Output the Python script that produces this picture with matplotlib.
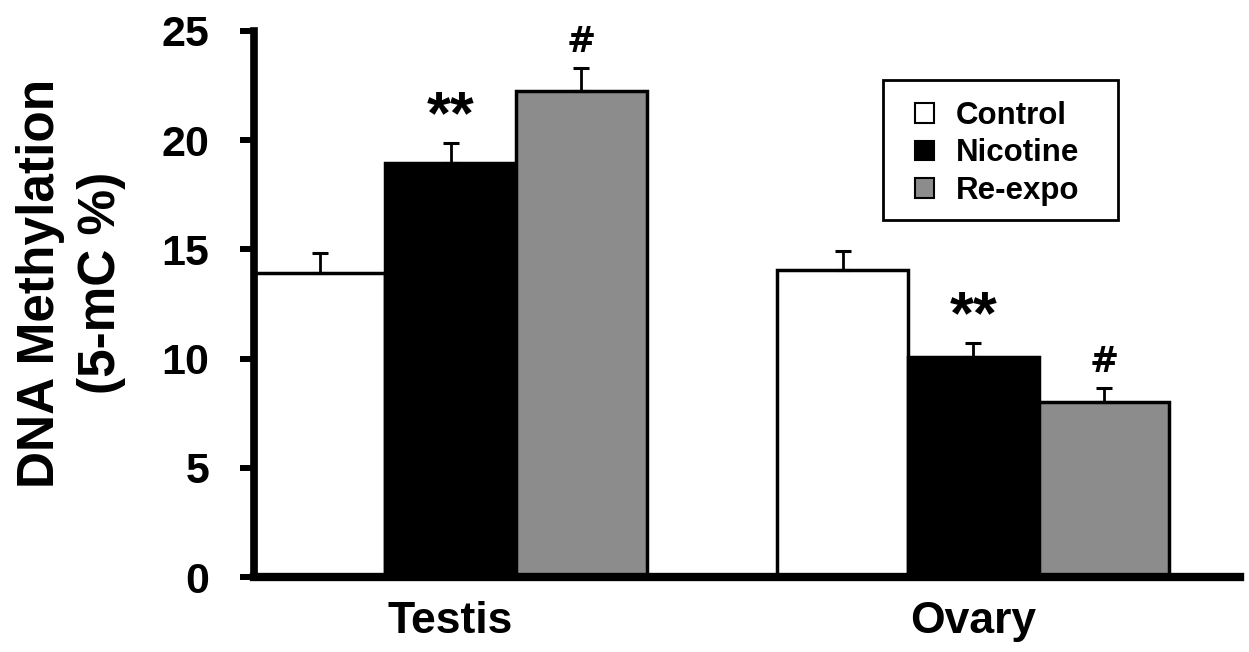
import numpy as np
import matplotlib
matplotlib.use("Agg")
import matplotlib.pyplot as plt
from matplotlib.patches import Rectangle

plt.rcParams['font.family'] = ['Liberation Sans', 'DejaVu Sans']
plt.rcParams['font.weight'] = 'bold'

# data
organs = ["Testis", "Ovary"]
groups = ["Control", "Nicotine", "Re-expo"]
control = [13.92, 14.06]
nicotine = [18.95, 10.07]
reexpo = [22.25, 8.01]
control_err = [0.92, 0.87]
nicotine_err = [0.92, 0.64]
reexpo_err = [1.06, 0.64]
marks = {"Control": ["", ""], "Nicotine": ["**", "**"], "Re-expo": ["#", "#"]}

colors = {"Control": "white", "Nicotine": "black", "Re-expo": "#8c8c8c"}
# fontsize, offset above cap, family
mark_style = {"**": (44, 0.45, "Liberation Sans"), "#": (25, 0.73, "DejaVu Sans")}

fig = plt.figure(figsize=(12.49, 6.52), dpi=100)
ax = fig.add_axes([0.2034, 0.115, 0.7894, 0.8375])

x = np.arange(len(organs))
w = 0.25
series = [(groups[0], control, control_err),
          (groups[1], nicotine, nicotine_err),
          (groups[2], reexpo, reexpo_err)]

for i, (name, vals, errs) in enumerate(series):
    pos = x + (i - 1) * w
    ax.bar(pos, vals, width=w, color=colors[name], edgecolor="black",
           linewidth=2.5, label=name, zorder=2)
    ax.errorbar(pos, vals, yerr=[np.zeros(len(errs)), errs], fmt="none",
                ecolor="black", elinewidth=2, capsize=5.5, capthick=2.2,
                zorder=3)
    for p, v, e, m in zip(pos, vals, errs, marks[name]):
        if m:
            fs, off, fam = mark_style[m]
            ax.text(p, v + e + off, m, ha="center", va="baseline",
                    fontsize=fs, fontweight="bold", family=fam)

ax.set_xlim(-0.376, 1.51)
ax.set_ylim(0, 25)
ax.set_yticks([0, 5, 10, 15, 20, 25])
ax.set_xticks(x)
ax.set_xticklabels(organs)

for s in ["top", "right"]:
    ax.spines[s].set_visible(False)
ax.spines["left"].set_linewidth(5.5)
ax.spines["bottom"].set_linewidth(6)
ax.tick_params(axis="y", direction="out", length=10, width=4.3, pad=22,
               labelsize=31)
ax.tick_params(axis="x", length=0, pad=17, labelsize=32)

fig.text(0.057, 0.566, "DNA Methylation\n(5-mC %)", rotation=90,
         ha="center", va="center", fontsize=37, fontweight="bold",
         linespacing=1.3)

# legend entries without frame, box drawn separately
leg = ax.legend(loc="upper left", bbox_to_anchor=(0.6704, 0.8718),
                borderaxespad=0, borderpad=0, fontsize=22.5, frameon=False,
                handlelength=0.6, handleheight=0.6, handletextpad=0.7,
                labelspacing=0.24)
for h in leg.legend_handles:
    h.set_linewidth(1.5)
ax.add_patch(Rectangle((0.638, 0.6538), 0.2383, 0.2565, transform=ax.transAxes,
                       fill=False, edgecolor="black", linewidth=2,
                       clip_on=False, zorder=5))

fig.savefig("out.png", dpi=100)
